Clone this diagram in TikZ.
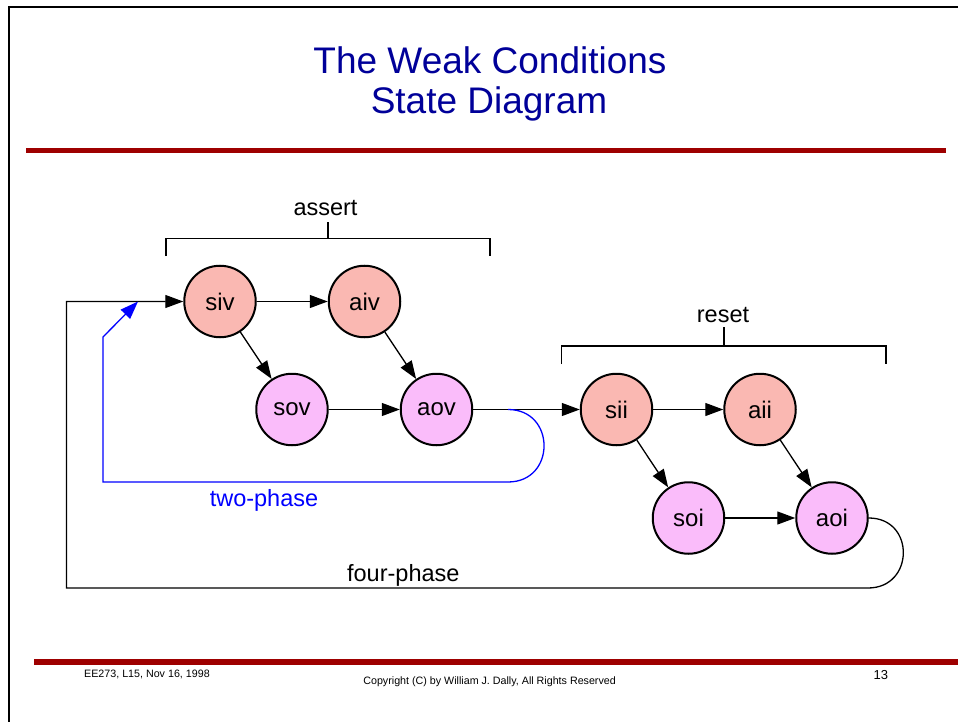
\documentclass[tikz,border=0pt]{standalone}
\usepackage{fontspec}
\setmainfont{Liberation Sans}
\usetikzlibrary{arrows.meta}
\definecolor{titleblue}{RGB}{0,0,153}
\definecolor{rulered}{RGB}{158,0,0}
\definecolor{infill}{RGB}{250,184,178}
\definecolor{outfill}{RGB}{250,188,250}
\definecolor{phaseblue}{RGB}{0,0,255}

\begin{document}
\begin{tikzpicture}[x=1pt,y=-1pt,
  state/.style={circle, draw=black, line width=2pt, minimum size=71.5pt,
    inner sep=0pt, font=\fontsize{24}{28}\selectfont},
  instate/.style={state, fill=infill},
  outstate/.style={state, fill=outfill},
  conn/.style={line width=1.3pt, -{Triangle[length=18pt,width=13pt]}},
  plain/.style={line width=1.3pt},
  lbl/.style={anchor=base, inner sep=0pt, font=\fontsize{23.5}{28}\selectfont},
  foot/.style={anchor=base, inner sep=0pt, font=\fontsize{10.7}{13}\selectfont},
  redrule/.style={rulered, line width=5.6pt}
]
\useasboundingbox (0,0) rectangle (958,722);

% slide frame
\draw[line width=2pt] (8.5,722) -- (8.5,7.5) -- (958,7.5);

% title
\node[anchor=base, inner sep=0pt, text=titleblue, font=\fontsize{37}{44}\selectfont]
  (title1) at (490,73.3) {The Weak Conditions};
\node[anchor=base, inner sep=0pt, text=titleblue, font=\fontsize{37}{44}\selectfont]
  (title2) at (489,114) {State Diagram};

% rules
\draw[redrule] (26,150.5) -- (946,150.5);
\draw[redrule] (34,662) -- (958,662);

% states
\node[instate]  (siv) at (220,301.5) {siv};
\node[instate]  (aiv) at (364.5,301.5) {aiv};
\node[outstate] (sov) at (292,409.5) {sov};
\node[outstate] (aov) at (436.5,409.5) {aov};
\node[instate]  (sii) at (616.5,409.5) {sii};
\node[instate]  (aii) at (760,409.5) {aii};
\node[outstate] (soi) at (688.5,518) {soi};
\node[outstate] (aoi) at (832,518) {aoi};

% transitions
\draw[conn] (siv) -- (aiv);
\draw[conn] (siv) -- (sov);
\draw[conn] (aiv) -- (aov);
\draw[conn] (sov) -- (aov);
\draw[conn] (aov) -- (sii);
\draw[conn] (sii) -- (aii);
\draw[conn] (sii) -- (soi);
\draw[conn] (aii) -- (aoi);
\draw[conn] (soi) -- (aoi);

% four-phase return path
\coordinate (fpturn) at (868,588);
\coordinate (fpleft) at (66.5,588);
\draw[conn] (aoi.east) to[out=0,in=0,looseness=1.7] (fpturn)
  -- (fpleft) |- (siv.west);
\node[lbl] (fourphase) at (403.3,581) {four-phase};

% two-phase return path
\coordinate (tpstart) at (508,409.5);
\coordinate (tpturn) at (508,482);
\coordinate (tpleft) at (103,482);
\coordinate (tpcorner) at (103,337);
\coordinate (tpend) at (138,301.5);
\draw[conn, phaseblue] (tpstart) to[out=0,in=0,looseness=1.7] (tpturn)
  -- (tpleft) -- (tpcorner) -- (tpend);
\node[lbl, text=phaseblue] (twophase) at (264,506.7) {two-phase};

% assert bracket
\coordinate (abl) at (166,256);
\coordinate (abr) at (490,256);
\coordinate (abm) at (328,238.3);
\coordinate (abt) at (328,221.7);
\draw[plain] (abl) |- (abr |- abm) -- (abr);
\draw[plain] (abm) -- (abt);
\node[lbl] (assert) at (325.5,215) {assert};

% reset bracket
\coordinate (rbl) at (561.7,364);
\coordinate (rbr) at (886,364);
\coordinate (rbm) at (724,346);
\coordinate (rbt) at (724,327);
\draw[plain] (rbl) |- (rbr |- rbm) -- (rbr);
\draw[plain] (rbm) -- (rbt);
\node[lbl] (reset) at (723,322) {reset};

% footer
\node[foot, anchor=base west] (course) at (84,677.3) {EE273, L15, Nov 16, 1998};
\node[foot] (copyright) at (489.6,684) {Copyright (C) by William J. Dally, All Rights Reserved};
\node[anchor=base, inner sep=0pt, font=\fontsize{13}{15}\selectfont] (page) at (880.8,679.3) {13};
\end{tikzpicture}
\end{document}
